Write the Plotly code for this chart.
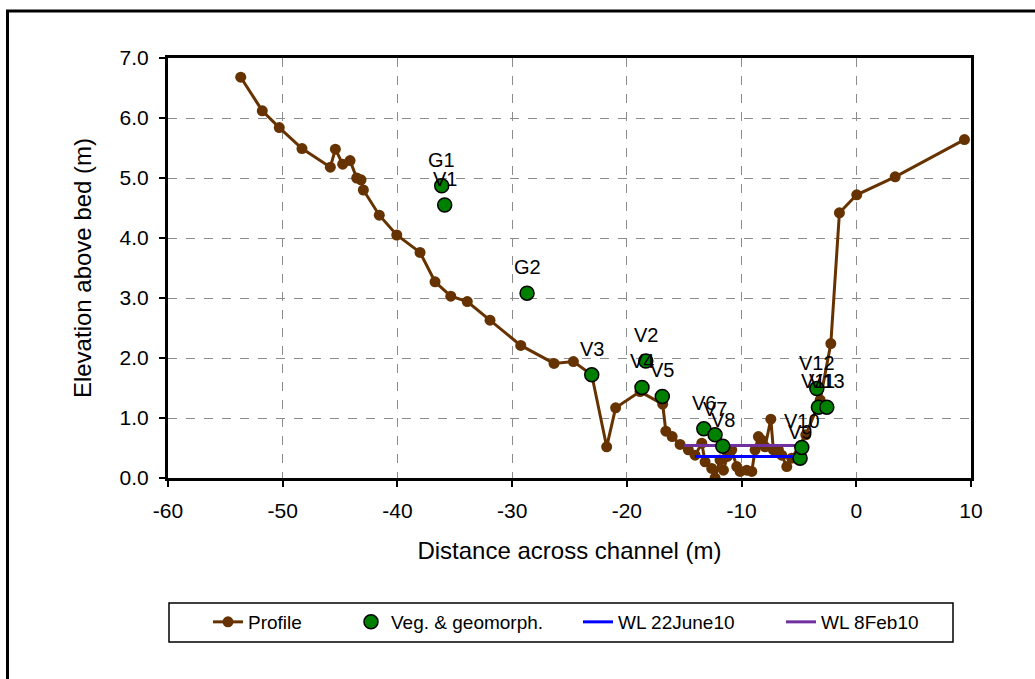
import plotly.graph_objects as go

# ---------------- data ----------------
profile_x = [-53.66, -51.78, -50.30, -48.32, -45.85, -45.41, -44.77, -44.13, -43.55, -43.17,
             -42.97, -41.58, -40.06, -38.03, -36.72, -35.35, -33.91, -31.93, -29.25, -26.35,
             -24.66, -23.06, -21.76, -20.98, -18.85, -16.88, -16.60, -16.05, -15.36, -14.64,
             -14.05, -13.47, -13.18, -12.60, -12.31, -11.88, -11.58, -11.24, -10.86, -10.42,
             -10.13, -9.55, -9.11, -8.82, -8.53, -8.24, -7.95, -7.45, -7.23, -6.79,
             -6.50, -6.06, -5.63, -4.40, -3.15, -2.22, -1.47, 0.04, 3.39, 9.43]
profile_y = [6.68, 6.12, 5.84, 5.49, 5.18, 5.48, 5.23, 5.29, 5.00, 4.97,
             4.80, 4.38, 4.05, 3.76, 3.27, 3.03, 2.94, 2.63, 2.21, 1.91,
             1.94, 1.72, 0.52, 1.17, 1.44, 1.23, 0.78, 0.69, 0.56, 0.47,
             0.38, 0.58, 0.27, 0.16, 0.00, 0.30, 0.13, 0.36, 0.47, 0.19,
             0.11, 0.13, 0.11, 0.47, 0.69, 0.63, 0.52, 0.98, 0.47, 0.47,
             0.38, 0.19, 0.33, 0.72, 1.30, 2.24, 4.42, 4.72, 5.02, 5.64]

veg_labels = ["G1", "V1", "G2", "V3", "V2", "V4", "V5", "V6", "V7", "V8",
              "V9", "V10", "V11", "V12", "V13"]
veg_x = [-36.14, -35.88, -28.70, -23.06, -18.35, -18.68, -16.91, -13.29, -12.31, -11.64,
         -4.90, -4.75, -3.30, -3.44, -2.57]
veg_y = [4.87, 4.55, 3.08, 1.72, 1.95, 1.51, 1.36, 0.82, 0.72, 0.53,
         0.33, 0.51, 1.18, 1.49, 1.18]

wl_june_x = [-14.05, -5.25]
wl_june_y = [0.36, 0.36]
wl_feb_x = [-15.0, -5.05]
wl_feb_y = [0.54, 0.54]

x_ticks = [-60, -50, -40, -30, -20, -10, 0, 10]
y_ticks = [0, 1, 2, 3, 4, 5, 6, 7]

FONT = "Arial, Liberation Sans, sans-serif"
BROWN = "#663300"

fig = go.Figure()

fig.add_trace(go.Scatter(
    x=profile_x, y=profile_y, mode="lines+markers", name="Profile",
    line=dict(color=BROWN, width=3),
    marker=dict(color=BROWN, size=11),
    legend="legend5"))

fig.add_trace(go.Scatter(
    x=wl_june_x, y=wl_june_y, mode="lines", name="WL 22June10",
    line=dict(color="#0000FF", width=3), legend="legend3"))

fig.add_trace(go.Scatter(
    x=wl_feb_x, y=wl_feb_y, mode="lines", name="WL 8Feb10",
    line=dict(color="#7030A0", width=3), legend="legend4"))

fig.add_trace(go.Scatter(
    x=veg_x, y=veg_y, mode="markers", name="Veg. & geomorph.",
    marker=dict(color="#008000", size=14, line=dict(color="black", width=1.5)),
    legend="legend2"))

annotations = [
    dict(x=vx, y=vy, xref="x", yref="y", text=lab, showarrow=False,
         xanchor="center", yanchor="middle", yshift=26,
         font=dict(family=FONT, size=20, color="black"))
    for vx, vy, lab in zip(veg_x, veg_y, veg_labels)
]

L, R, T, B = 168, 971, 58, 478
W, H = 1035, 679


def px(p):
    return (p - L) / (R - L)


def py(p):
    return (B - p) / (B - T)


axis_common = dict(
    showline=True, linewidth=3, linecolor="black", mirror=True,
    ticks="outside", ticklen=6, tickwidth=1.5, tickcolor="black",
    showgrid=True, gridcolor="#8c8c8c", griddash="dash", gridwidth=1,
    zeroline=False, tickfont=dict(family=FONT, size=21, color="black"),
    ticklabelstandoff=6,
)

fig.update_xaxes(range=[-60, 10], tickvals=x_ticks, ticktext=[str(v) for v in x_ticks],
                 title=dict(text="Distance across channel (m)", standoff=21,
                            font=dict(family=FONT, size=24, color="black")),
                 **axis_common)
fig.update_yaxes(range=[0, 7], tickvals=y_ticks, ticktext=[f"{v:.1f}" for v in y_ticks],
                 title=dict(text="Elevation above bed (m)", standoff=22,
                            font=dict(family=FONT, size=24, color="black")),
                 **axis_common)

leg_common = dict(orientation="h", yanchor="middle", y=py(622), xanchor="left",
                  bgcolor="rgba(0,0,0,0)", borderwidth=0,
                  font=dict(family=FONT, size=19, color="black"))

fig.update_layout(
    width=W, height=H,
    margin=dict(l=L, r=W - R, t=T, b=H - B, pad=0),
    paper_bgcolor="white", plot_bgcolor="white",
    legend5=dict(x=px(208), **leg_common),
    legend2=dict(x=px(351), **leg_common),
    legend3=dict(x=px(578), **leg_common),
    legend4=dict(x=px(781), **leg_common),
    annotations=annotations,
    shapes=[
        dict(type="rect", xref="paper", yref="paper",
             x0=px(169), x1=px(953), y0=py(642), y1=py(603),
             line=dict(color="black", width=1.5), fillcolor="rgba(0,0,0,0)"),
        dict(type="rect", xref="paper", yref="paper",
             x0=px(7.5), x1=px(1060), y0=py(700), y1=py(11),
             line=dict(color="black", width=3), fillcolor="rgba(0,0,0,0)"),
    ],
)

fig.write_html("out.html")
